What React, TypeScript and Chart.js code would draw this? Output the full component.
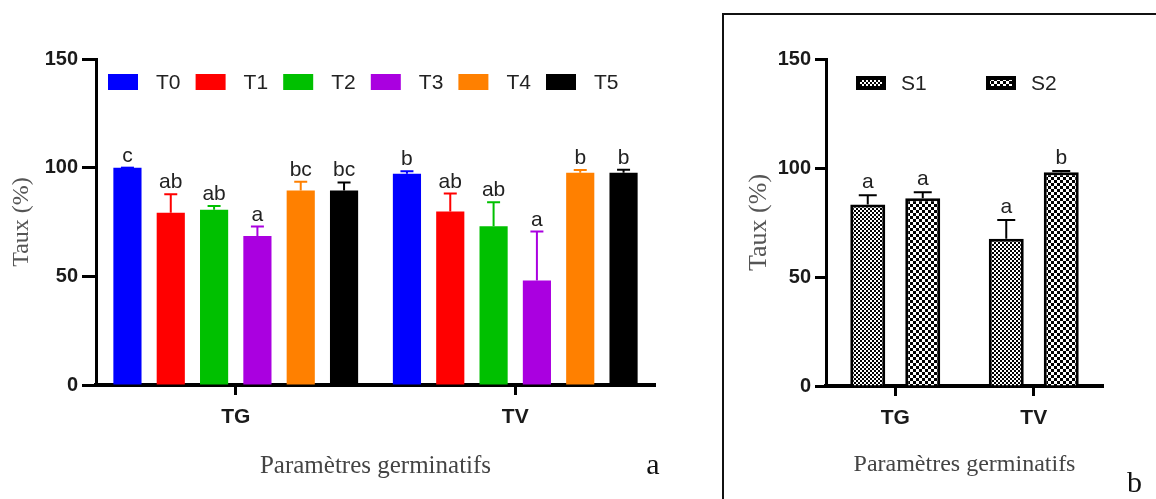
import React, { useEffect, useRef } from "react";
import { Chart, registerables } from "chart.js";

Chart.register(...registerables);

// ---------- data ----------
const categories = ["TG", "TV"];
const yTicks = [0, 50, 100, 150];

// panel a : treatments
const treatmentNames = ["T0", "T1", "T2", "T3", "T4", "T5"];
const T0 = [100, 97.2];
const T1 = [79.3, 79.8];
const T2 = [80.6, 73.0];
const T3 = [68.6, 48.1];
const T4 = [89.5, 97.7];
const T5 = [89.5, 97.7];
const T0_sd = [0, 1.1];
const T1_sd = [8.5, 8.3];
const T2_sd = [1.8, 11.1];
const T3_sd = [4.3, 22.5];
const T4_sd = [4.0, 1.2];
const T5_sd = [3.7, 1.3];
const T0_sig = ["c", "b"];
const T1_sig = ["ab", "ab"];
const T2_sig = ["ab", "ab"];
const T3_sig = ["a", "a"];
const T4_sig = ["bc", "b"];
const T5_sig = ["bc", "b"];

// panel b : strains
const strainNames = ["S1", "S2"];
const S1 = [83.2, 67.5];
const S2 = [86.1, 98.1];
const S1_sd = [4.3, 8.7];
const S2_sd = [2.8, 0.5];
const S1_sig = ["a", "a"];
const S2_sig = ["a", "b"];

const xTitle = "Paramètres germinatifs";
const yTitle = "Taux (%)";

// ---------- styles ----------
const treatmentColors = ["#0000FF", "#FF0000", "#00C000", "#AA00E0", "#FF8000", "#000000"];
const SANS = "'Liberation Sans', Arial, sans-serif";
const SERIF = "'Liberation Serif', 'Times New Roman', serif";

const treatmentValues = [T0, T1, T2, T3, T4, T5];
const treatmentSd = [T0_sd, T1_sd, T2_sd, T3_sd, T4_sd, T5_sd];
const treatmentSig = [T0_sig, T1_sig, T2_sig, T3_sig, T4_sig, T5_sig];
const strainValues = [S1, S2];
const strainSd = [S1_sd, S2_sd];
const strainSig = [S1_sig, S2_sig];

// ---------- plugins ----------
const errBarsPlugin = {
  id: "errBars",
  afterDatasetsDraw(chart: any, _args: any, opts: any) {
    const ctx = chart.ctx;
    const y = chart.scales.y;
    chart.data.datasets.forEach((ds: any, i: number) => {
      const meta = chart.getDatasetMeta(i);
      meta.data.forEach((bar: any, j: number) => {
        const v = ds.data[j];
        const sd = ds.sd[j];
        const base = y.getPixelForValue(v);
        const top = y.getPixelForValue(v + sd);
        ctx.save();
        ctx.strokeStyle = opts.color || ds.backgroundColor;
        ctx.lineWidth = opts.lineWidth;
        ctx.beginPath();
        ctx.moveTo(bar.x, base);
        ctx.lineTo(bar.x, top);
        ctx.moveTo(bar.x - opts.cap / 2, top);
        ctx.lineTo(bar.x + opts.cap / 2, top);
        ctx.stroke();
        ctx.fillStyle = "#222";
        ctx.font = `${opts.fontSize}px ${SANS}`;
        ctx.textAlign = "center";
        ctx.textBaseline = "alphabetic";
        ctx.fillText(ds.sig[j], bar.x, top - opts.gap);
        ctx.restore();
      });
    });
  },
};

const customLegendPlugin = {
  id: "customLegend",
  afterDraw(chart: any, _args: any, opts: any) {
    const ctx = chart.ctx;
    chart.data.datasets.forEach((ds: any, i: number) => {
      const bx = opts.x0 + i * opts.pitch;
      const by = opts.y - opts.boxH / 2;
      ctx.save();
      ctx.fillStyle = ds.backgroundColor;
      ctx.fillRect(bx, by, opts.boxW, opts.boxH);
      if (opts.stroke) {
        ctx.strokeStyle = "#000";
        ctx.lineWidth = opts.stroke;
        ctx.strokeRect(bx + opts.stroke / 2, by + opts.stroke / 2, opts.boxW - opts.stroke, opts.boxH - opts.stroke);
      }
      ctx.fillStyle = "#222";
      ctx.font = `${opts.fontSize}px ${SANS}`;
      ctx.textAlign = "left";
      ctx.textBaseline = "middle";
      ctx.fillText(ds.label, bx + opts.textGap, opts.y + 1);
      ctx.restore();
    });
  },
};

const panelLetterPlugin = {
  id: "panelLetter",
  afterDraw(chart: any, _args: any, opts: any) {
    const ctx = chart.ctx;
    ctx.save();
    ctx.fillStyle = "#111";
    ctx.font = `${opts.fontSize}px ${SERIF}`;
    ctx.textAlign = "center";
    ctx.textBaseline = "alphabetic";
    ctx.fillText(opts.text, opts.x, opts.y);
    ctx.restore();
  },
};

function makePattern(ctx: CanvasRenderingContext2D, cell: number, square: number) {
  const tile = document.createElement("canvas");
  tile.width = cell * 2;
  tile.height = cell * 2;
  const g = tile.getContext("2d")!;
  g.fillStyle = "#fff";
  g.fillRect(0, 0, cell * 2, cell * 2);
  g.fillStyle = "#000";
  g.fillRect(0, 0, square, square);
  g.fillRect(cell, cell, square, square);
  return ctx.createPattern(tile, "repeat");
}

function axisOptions(
  yWidth: number,
  xHeight: number,
  yTitlePad: number,
  xTitlePad: number,
  yTick: number,
  xTitleSize: number,
  yTitleSize: number
) {
  return {
    x: {
      type: "category",
      offset: true,
      grid: {
        offset: false,
        drawOnChartArea: false,
        drawTicks: true,
        tickLength: 10,
        tickWidth: 3,
        tickColor: "#000",
      },
      border: { display: true, color: "#000", width: 4 },
      ticks: {
        font: { family: SANS, size: 21, weight: "bold" },
        color: "#1a1a1a",
        padding: 10,
        maxRotation: 0,
      },
      title: {
        display: true,
        text: xTitle,
        font: { family: SERIF, size: xTitleSize },
        color: "#444",
        padding: { top: 0, bottom: xTitlePad },
      },
      afterFit: (s: any) => {
        s.height = xHeight;
      },
    },
    y: {
      min: 0,
      max: 150,
      afterBuildTicks: (s: any) => {
        s.ticks = yTicks.map((v) => ({ value: v }));
      },
      ticks: {
        font: { family: SANS, size: 20, weight: "bold" },
        color: "#1a1a1a",
        padding: 4,
      },
      grid: {
        drawOnChartArea: false,
        drawTicks: true,
        tickLength: yTick,
        tickWidth: 3,
        tickColor: "#000",
      },
      border: { display: true, color: "#000", width: 3 },
      title: {
        display: true,
        text: yTitle,
        font: { family: SERIF, size: yTitleSize },
        color: "#555",
        padding: { top: yTitlePad, bottom: 0 },
      },
      afterFit: (s: any) => {
        s.width = yWidth;
      },
    },
  };
}

export default function App() {
  const leftRef = useRef<HTMLCanvasElement>(null);
  const rightRef = useRef<HTMLCanvasElement>(null);

  useEffect(() => {
    const left = new Chart(leftRef.current!, {
      type: "bar",
      data: {
        labels: categories,
        datasets: treatmentNames.map((name, i) => ({
          label: name,
          data: treatmentValues[i],
          sd: treatmentSd[i],
          sig: treatmentSig[i],
          backgroundColor: treatmentColors[i],
          borderWidth: 0,
          categoryPercentage: 0.93,
          barPercentage: 0.65,
        })) as any,
      },
      options: {
        responsive: false,
        animation: false,
        devicePixelRatio: 1,
        layout: { padding: { top: 59, right: 45, bottom: 0, left: 0 } },
        plugins: {
          legend: { display: false },
          tooltip: { enabled: false },
          errBars: { lineWidth: 2, cap: 13, gap: 6, fontSize: 21 },
          customLegend: { x0: 108, pitch: 87.6, y: 82, boxW: 30, boxH: 16, textGap: 48, fontSize: 21, stroke: 0 },
          panelLetter: { text: "a", x: 653, y: 474, fontSize: 30 },
        } as any,
        scales: axisOptions(96, 114, 7, 18, 14, 25, 24) as any,
      },
      plugins: [errBarsPlugin, customLegendPlugin, panelLetterPlugin],
    });

    const rctx = rightRef.current!.getContext("2d")!;
    const patterns = [makePattern(rctx, 2, 2), makePattern(rctx, 3, 3)];

    const right = new Chart(rightRef.current!, {
      type: "bar",
      data: {
        labels: categories,
        datasets: strainNames.map((name, i) => ({
          label: name,
          data: strainValues[i],
          sd: strainSd[i],
          sig: strainSig[i],
          backgroundColor: patterns[i],
          borderColor: "#000",
          borderWidth: 3,
          categoryPercentage: 0.794,
          barPercentage: 0.636,
        })) as any,
      },
      options: {
        responsive: false,
        animation: false,
        devicePixelRatio: 1,
        layout: { padding: { top: 59, right: 53, bottom: 0, left: 0 } },
        plugins: {
          legend: { display: false },
          tooltip: { enabled: false },
          errBars: { lineWidth: 2, cap: 18, gap: 7, fontSize: 21, color: "#000" },
          customLegend: { x0: 156, pitch: 130, y: 83, boxW: 30, boxH: 14, textGap: 45, fontSize: 21, stroke: 4 },
          panelLetter: { text: "b", x: 434.5, y: 492, fontSize: 30 },
        } as any,
        scales: axisOptions(126, 113, 44, 20, 11, 24, 26) as any,
      },
      plugins: [errBarsPlugin, customLegendPlugin, panelLetterPlugin],
    });

    return () => {
      left.destroy();
      right.destroy();
    };
  }, []);

  return (
    <div
      style={{
        position: "fixed",
        left: 0,
        top: 0,
        width: 1156,
        height: 499,
        background: "#fff",
        overflow: "hidden",
      }}
    >
      <div
        style={{
          position: "absolute",
          left: 722,
          top: 13,
          width: 434,
          height: 486,
          borderLeft: "2px solid #111",
          borderTop: "2px solid #111",
          boxSizing: "border-box",
        }}
      />
      <canvas ref={leftRef} width={700} height={499} style={{ position: "absolute", left: 0, top: 0 }} />
      <canvas ref={rightRef} width={456} height={499} style={{ position: "absolute", left: 700, top: 0 }} />
    </div>
  );
}
